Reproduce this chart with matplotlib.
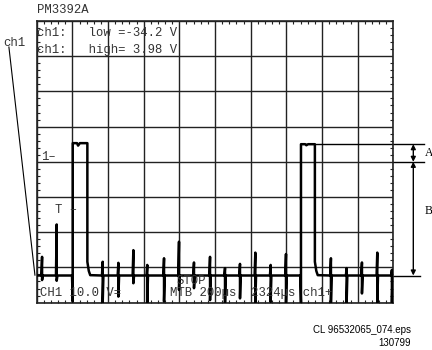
import matplotlib.pyplot as plt
from matplotlib.ticker import MultipleLocator

# --- trace data (divisions: x 0..10, y 0..8) ---
baseline = 0.77
# narrow spikes riding on the baseline: position, upper tip, lower tip
spike_x = [0.15, 0.56, 1.85, 2.29, 2.71, 3.10, 3.57, 3.99, 4.41, 4.86, 5.28,
           5.70, 6.13, 6.56, 6.99, 8.25, 8.69, 9.12, 9.55, 9.96]
spike_up = [1.30, 2.22, 1.16, 1.13, 1.49, 1.07, 1.26, 1.73, 1.14, 1.30, 0.98,
            1.10, 1.42, 1.07, 1.38, 1.26, 0.98, 1.14, 1.42, 0.93]
spike_down = [0.64, 0.62, 0.00, 0.17, 0.55, 0.00, 0.03, 0.36, 0.41, 0.07, 0.00,
              0.12, 0.00, 0.02, 0.00, 0.00, 0.00, 0.26, 0.00, 0.00]
# the two wide pulses
pulse_start = [1.01, 7.41]
pulse_end = [1.42, 7.80]
pulse_top = [4.53, 4.50]
pulse_dip = [0.03, 0.00]          # negative kick right before the rising edge
pulse_notch = [4.46, 4.47]        # small notch on the flat top
tail_dx = [0.0, 0.04, 0.08]       # trailing edge settling
tail_y = [1.16, 0.90, 0.78]

# build the polyline from the arrays above
events = []
for i in range(len(spike_x)):
    events.append((spike_x[i], 'spike', i))
for i in range(len(pulse_start)):
    events.append((pulse_start[i], 'pulse', i))
events.sort()

tx, ty = [0.0], [baseline]
for pos, kind, i in events:
    if kind == 'spike':
        tx += [pos - 0.02, pos, pos, pos + 0.02]
        ty += [baseline, spike_up[i], spike_down[i], baseline]
    else:
        s, e = pulse_start[i], pulse_end[i]
        tx += [s - 0.02, s, s, s + 0.12, s + 0.15, s + 0.2, e]
        ty += [baseline, pulse_dip[i], pulse_top[i], pulse_top[i],
               pulse_notch[i], pulse_top[i], pulse_top[i]]
        tx += [e + d for d in tail_dx]
        ty += tail_y
tx.append(10.0)
ty.append(baseline)

fig = plt.figure(figsize=(4.32, 3.5), dpi=100)
ax = fig.add_axes([0.085, 0.1354, 0.8255, 0.8046])
ax.set_xlim(0, 10)
ax.set_ylim(0, 8)

# graticule
ax.xaxis.set_major_locator(MultipleLocator(1))
ax.yaxis.set_major_locator(MultipleLocator(1))
ax.xaxis.set_minor_locator(MultipleLocator(0.2))
ax.yaxis.set_minor_locator(MultipleLocator(0.2))
ax.grid(True, which='major', color='#222222', lw=1.0)
ax.tick_params(which='major', length=0, labelbottom=False, labelleft=False)
ax.tick_params(which='minor', direction='in', length=2.3, width=0.8,
               top=True, right=True, bottom=True, left=True, color='#222222')
for sp in ax.spines.values():
    sp.set_linewidth(1.2)
    sp.set_color('#222222')

ax.plot(tx, ty, color='black', lw=1.8, zorder=3)

mono = 'Liberation Mono'
tc = '#333333'
ax.text(0.01, 8.31, 'PM3392A', family=mono, fontsize=8.8, color=tc,
        va='center', clip_on=False)
ax.text(0.01, 7.66, 'ch1:   low =-34.2 V', family=mono, fontsize=8.8, color=tc, va='center')
ax.text(0.01, 7.18, 'ch1:   high= 3.98 V', family=mono, fontsize=8.8, color=tc, va='center')
ax.text(0.12, 4.14, '1\u2013', family=mono, fontsize=8.8, color=tc, va='center')
ax.text(0.52, 2.63, 'T \u2013', family=mono, fontsize=8.8, color=tc, va='center')
ax.text(3.93, 0.61, 'STOP', family=mono, fontsize=8.8, color=tc, va='center', zorder=4)
ax.text(0.09, 0.27, 'CH1 10.0 V=', family=mono, fontsize=8.8, color=tc, va='center', zorder=4)
ax.text(3.74, 0.27, 'MTB 200\u00b5s  2324\u00b5s ch1+', family=mono, fontsize=8.8,
        color=tc, va='center', zorder=4)

# channel label with leader line
ax.text(-0.64, 7.37, 'ch1', family=mono, fontsize=8.8, color=tc,
        ha='center', va='center', clip_on=False)
ax.plot([-0.78, -0.05], [7.26, 0.78], color='black', lw=0.8, clip_on=False)

# A / B dimension marks on the right
ax.plot([pulse_end[1], 10.86], [pulse_top[1], pulse_top[1]], color='black', lw=1.0, clip_on=False)
ax.plot([10.0, 10.86], [4.0, 4.0], color='black', lw=1.0, clip_on=False)
ax.plot([10.0, 10.75], [baseline, baseline], color='black', lw=1.0, clip_on=False)
arr = dict(arrowstyle='<|-|>', color='black', lw=1.0, mutation_scale=7,
           shrinkA=0, shrinkB=0)
ax.annotate('', xy=(10.56, pulse_top[1]), xytext=(10.56, 4.0),
            arrowprops=arr, annotation_clip=False)
ax.annotate('', xy=(10.56, 4.0), xytext=(10.56, baseline),
            arrowprops=arr, annotation_clip=False)
ax.text(10.88, 4.25, 'A', family='Liberation Serif', fontsize=8.5,
        va='center', clip_on=False)
ax.text(10.88, 2.60, 'B', family='Liberation Serif', fontsize=8.5,
        va='center', clip_on=False)

# figure reference
fig.text(411 / 432, 1 - 330 / 350, 'CL 96532065_074.eps', family='Liberation Sans',
         fontsize=7, ha='right', va='center')
fig.text(411 / 432, 1 - 343 / 350, '130799', family='Liberation Sans',
         fontsize=7, ha='right', va='center')

plt.savefig('out.png', dpi=100)
